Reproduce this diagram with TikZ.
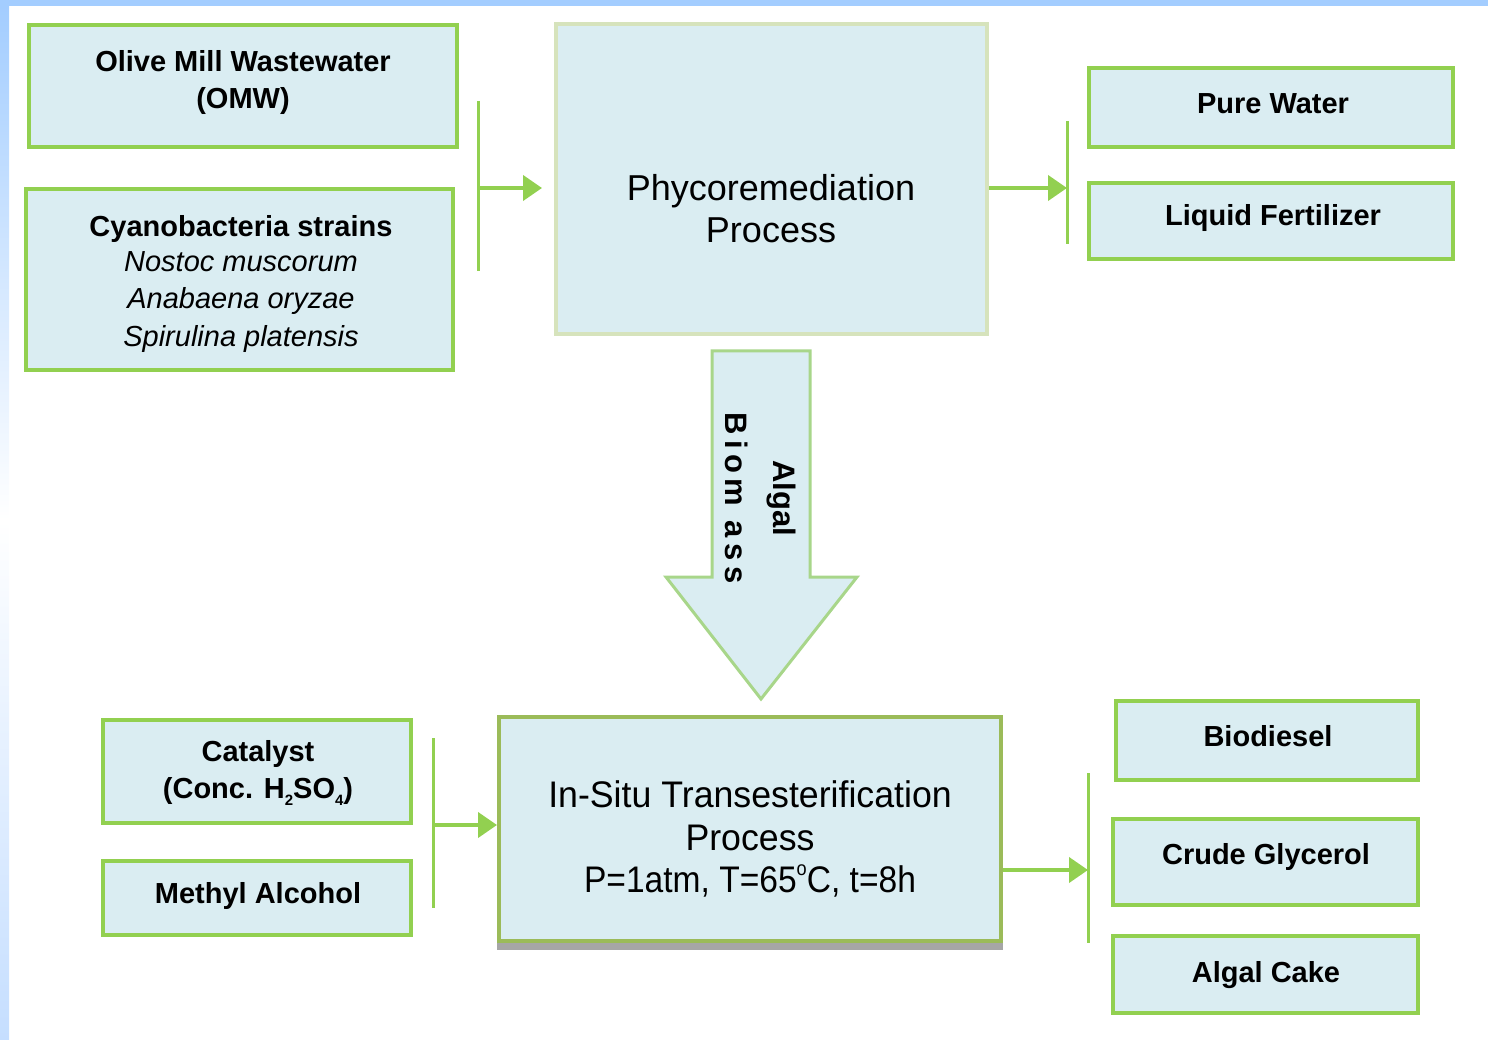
\documentclass[tikz,border=0pt]{standalone}
\usepackage{fontspec}
\setmainfont{Liberation Sans}
\newfontfamily\narrowfont[FakeStretch=0.965]{Liberation Sans}
\usetikzlibrary{arrows.meta,calc}
\definecolor{boxfill}{HTML}{DAEDF2}
\definecolor{grn}{HTML}{92D050}
\definecolor{palegrn}{HTML}{D6E3BC}
\definecolor{olivegrn}{HTML}{9BBB59}
\definecolor{arrgrn}{HTML}{A8D68A}
\definecolor{shadowgray}{HTML}{A6A6A6}
\definecolor{frameblue}{HTML}{A3CDFF}
\definecolor{framelow}{HTML}{C5DEFF}
\newcommand{\tinysub}[1]{\raisebox{-0.22em}{\fontsize{15}{15}\selectfont #1}}
\tikzset{
  box/.style={draw=grn, line width=4pt, fill=boxfill, rectangle, inner sep=0pt},
  procbox/.style={rectangle, inner sep=0pt, fill=boxfill, line width=4pt},
  boldtxt/.style={font=\fontsize{29}{37}\selectfont\bfseries, align=center, inner sep=0pt, text=black},
  italtxt/.style={font=\fontsize{29}{37.5}\selectfont\itshape, align=center, inner sep=0pt},
  proctxt/.style={font=\fontsize{36}{42}\selectfont, align=center, inner sep=0pt},
  bracketline/.style={draw=grn, line width=3pt},
  flow/.style={draw=grn, line width=4pt, -{Triangle[length=19pt,width=25pt]}},
}
\begin{document}
\begin{tikzpicture}[x=1pt,y=-1pt]
\useasboundingbox (0,0) rectangle (1488,1040);
% frame
\fill[frameblue] (0,0) rectangle (1488,6);
\shade[top color=frameblue, bottom color=white] (0,6) rectangle (9,520);
\shade[top color=white, bottom color=framelow] (0,520) rectangle (9,1040);

% input boxes (top)
\node[box, minimum width=428pt, minimum height=122pt] (omw) at (243,86) {};
\node[boldtxt] (omwt) at (243,83) {Olive Mill Wastewater\\(OMW)};
\node[box, minimum width=427pt, minimum height=181pt] (cyano) at (239.5,279.5) {};
\node[boldtxt] (cyanot) at (241,229) {Cyanobacteria strains};
\node[italtxt] (cyanos) at (241,302) {Nostoc muscorum\\Anabaena oryzae\\Spirulina platensis};

% phycoremediation
\node[procbox, draw=palegrn, minimum width=431pt, minimum height=310pt] (phyco) at (771.5,179) {};
\node[proctxt] (phycot) at (771,209) {Phycoremediation\\Process};

% outputs (top)
\node[box, minimum width=364pt, minimum height=79pt] (pure) at (1271,107.5) {};
\node[boldtxt] (puret) at (1273,104) {Pure Water};
\node[box, minimum width=364pt, minimum height=76pt] (liquid) at (1271,221) {};
\node[boldtxt] (liquidt) at (1273,218) {Liquid Fertilizer};

% top connectors
\coordinate (lt) at (478,101);
\coordinate (lb) at (478,271);
\coordinate (lm) at (478,188);
\coordinate (la) at (542,188);
\draw[bracketline] (lt) -- (lb);
\draw[flow] (lm) -- (la);
\coordinate (rt) at (1067,121);
\coordinate (rb) at (1067,244);
\coordinate (rm) at (1067,188);
\draw[bracketline] (rt) -- (rb);
\draw[flow] (phyco.east |- rm) -- (rm);

% big arrow
\draw[arrgrn, line width=3pt, fill=boxfill, line join=miter]
  (712,351) -- (810,351) -- (810,577) -- (857,577) -- (761,699) -- (666,577) -- (712,577) -- cycle;
\node[font=\fontsize{31}{48}\selectfont\bfseries, align=center, rotate=-90, inner sep=0pt] (bio) at (761,498)
  {Algal\\{\addfontfeature{LetterSpace=18}Biom ass}};

% transesterification
\fill[shadowgray] (497,938) rectangle (1003,950);
\node[procbox, draw=olivegrn, minimum width=502pt, minimum height=224pt] (trans) at (750,829) {};
\node[proctxt, font=\fontsize{37}{42.5}\narrowfont] (transt) at (750,839)
  {In-Situ Transesterification\\Process\\\scalebox{0.94}[1]{P=1atm, T=65\raisebox{0.45em}{\fontsize{20}{20}\selectfont o}C, t=8h}};

% bottom inputs
\node[box, minimum width=308pt, minimum height=103pt] (cat) at (257,771.5) {};
\node[boldtxt] (catt) at (258,773) {Catalyst\\(Conc. H\tinysub{2}SO\tinysub{4})};
\node[box, minimum width=308pt, minimum height=74pt] (meth) at (257,898) {};
\node[boldtxt] (metht) at (258,896) {Methyl Alcohol};

% bottom outputs
\node[box, minimum width=302pt, minimum height=79pt] (biod) at (1267,740.5) {};
\node[boldtxt] (biodt) at (1268,736.5) {Biodiesel};
\node[box, minimum width=305pt, minimum height=86pt] (crude) at (1265.5,862) {};
\node[boldtxt] (crudet) at (1266,857) {Crude Glycerol};
\node[box, minimum width=305pt, minimum height=77pt] (cake) at (1265.5,974.5) {};
\node[boldtxt] (caket) at (1266,975) {Algal Cake};

% bottom connectors
\coordinate (blt) at (433,738);
\coordinate (blb) at (433,908);
\coordinate (blm) at (433,825);
\draw[bracketline] (blt) -- (blb);
\draw[flow] (blm) -- (trans.west |- blm);
\coordinate (brt) at (1088,773);
\coordinate (brb) at (1088,943);
\coordinate (brm) at (1088,870);
\draw[bracketline] (brt) -- (brb);
\draw[flow] (trans.east |- brm) -- (brm);
\end{tikzpicture}
\end{document}
